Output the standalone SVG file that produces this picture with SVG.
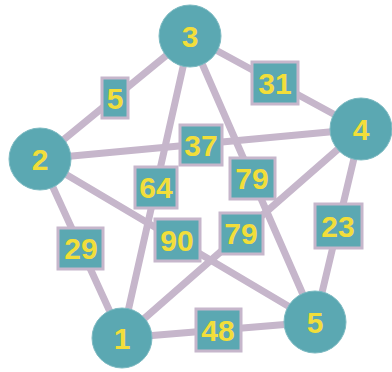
<svg xmlns="http://www.w3.org/2000/svg" width="392" height="372" viewBox="0 0 392 372">
<style>
.e{stroke:#c6b6cb;stroke-width:7;stroke-linecap:round;fill:none}
.n{fill:#5ba8b2;stroke:#7dbac2;stroke-width:1}
.b{fill:#5ba8b2;stroke:#c6b6cb;stroke-width:3}
.t{font-family:"Liberation Sans",Arial,sans-serif;font-weight:bold;font-size:30px;fill:#f2de3a;text-anchor:middle}
</style>
<rect width="392" height="372" fill="#fff"/>
<g id="edges">
<line class="e" x1="190" y1="36" x2="40" y2="159"/>
<line class="e" x1="190" y1="36" x2="361" y2="129"/>
<line class="e" x1="190" y1="36" x2="122" y2="338"/>
<line class="e" x1="190" y1="36" x2="315" y2="322"/>
<line class="e" x1="40" y1="159" x2="361" y2="129"/>
<line class="e" x1="40" y1="159" x2="315" y2="322"/>
<line class="e" x1="40" y1="159" x2="122" y2="338"/>
<line class="e" x1="122" y1="338" x2="361" y2="129"/>
<line class="e" x1="122" y1="338" x2="315" y2="322"/>
<line class="e" x1="361" y1="129" x2="315" y2="322"/>
</g>
<g id="labels">
<g id="l5"><rect class="b" x="102" y="78" width="26" height="40"/><text class="t" x="115" y="109">5</text></g>
<g id="l31"><rect class="b" x="252" y="62" width="46" height="42"/><text class="t" x="275" y="94">31</text></g>
<g id="l37"><rect class="b" x="180" y="125" width="42" height="40"/><text class="t" x="201" y="156">37</text></g>
<g id="l64"><rect class="b" x="135" y="167" width="42" height="41"/><text class="t" x="156" y="198">64</text></g>
<g id="l79a"><rect class="b" x="230" y="158" width="45" height="41"/><text class="t" x="252" y="189">79</text></g>
<g id="l90"><rect class="b" x="155" y="219" width="45" height="42"/><text class="t" x="177" y="251">90</text></g>
<g id="l79b"><rect class="b" x="220" y="213" width="43" height="41"/><text class="t" x="241" y="244">79</text></g>
<g id="l29"><rect class="b" x="58" y="228" width="45" height="41"/><text class="t" x="81" y="259">29</text></g>
<g id="l23"><rect class="b" x="315" y="204" width="47" height="44"/><text class="t" x="338" y="237">23</text></g>
<g id="l48"><rect class="b" x="196" y="309" width="45" height="42"/><text class="t" x="218" y="341">48</text></g>
</g>
<g id="node3"><circle class="n" cx="190" cy="36" r="31"/><text class="t" x="190" y="47">3</text></g>
<g id="node2"><circle class="n" cx="40" cy="159" r="31"/><text class="t" x="40" y="170">2</text></g>
<g id="node4"><circle class="n" cx="361" cy="129" r="31"/><text class="t" x="361" y="140">4</text></g>
<g id="node1"><circle class="n" cx="122" cy="338" r="30"/><text class="t" x="122" y="349">1</text></g>
<g id="node5"><circle class="n" cx="315" cy="322" r="31"/><text class="t" x="315" y="333">5</text></g>
</svg>
